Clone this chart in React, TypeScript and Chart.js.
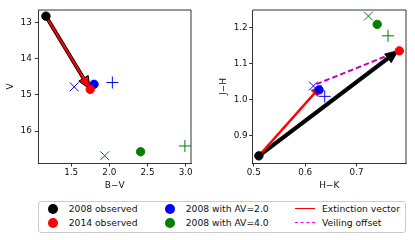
import React, { useEffect, useRef } from 'react';
import { Chart, registerables } from 'chart.js';

Chart.register(...registerables);

// ---------- Left panel: B−V vs V ----------
const bv2008 = [1.17];
const v2008 = [12.83];
const bv2014 = [1.75];
const v2014 = [14.85];
const bvAV2 = [1.8, 1.54, 2.04];
const vAV2 = [14.71, 14.78, 14.66];
const bvAV4 = [2.41, 1.94, 2.99];
const vAV4 = [16.57, 16.68, 16.41];
const leftXRange = [1.07, 3.07];
const leftYRange = [12.66, 16.88];
const leftXTicks = [1.5, 2.0, 2.5, 3.0];
const leftYTicks = [13, 14, 15, 16];
const leftArrowFrom = [1.17, 12.83];
const leftArrowTo = [1.75, 14.85];

// ---------- Right panel: H−K vs J−H ----------
const hk2008 = [0.51];
const jh2008 = [0.843];
const hk2014 = [0.783];
const jh2014 = [1.136];
const hkAV2 = [0.627, 0.616, 0.638];
const jhAV2 = [1.027, 1.038, 1.009];
const hkAV4 = [0.74, 0.723, 0.761];
const jhAV4 = [1.21, 1.233, 1.178];
const rightXRange = [0.498, 0.796];
const rightYRange = [0.823, 1.25];
const rightXTicks = [0.5, 0.6, 0.7];
const rightYTicks = [0.9, 1.0, 1.1, 1.2];
const extArrowFrom = [0.51, 0.843];
const extArrowTo = [0.632, 1.04];
const totArrowFrom = [0.51, 0.843];
const totArrowTo = [0.781, 1.137];
const veilFrom = [0.622, 1.043];
const veilTo = [0.783, 1.136];

const markerStyles = ['circle', 'crossRot', 'cross'];
const markerRadii = [4.2, 6.2, 6];

const FONT = 'DejaVu Sans';

function pts(xs: number[], ys: number[]) {
  return xs.map((x, i) => ({ x, y: ys[i] }));
}

function drawArrow(
  ctx: CanvasRenderingContext2D,
  x0: number, y0: number, x1: number, y1: number,
  o: { width: number; headWidth: number; headLength: number; fill: string; stroke: string; lineWidth: number }
) {
  const dx = x1 - x0, dy = y1 - y0;
  const L = Math.hypot(dx, dy);
  const ux = dx / L, uy = dy / L;
  const px = -uy, py = ux;
  const bx = x1 - ux * o.headLength, by = y1 - uy * o.headLength;
  const w = o.width / 2, hw = o.headWidth / 2;
  ctx.save();
  ctx.beginPath();
  ctx.moveTo(x0 + px * w, y0 + py * w);
  ctx.lineTo(bx + px * w, by + py * w);
  ctx.lineTo(bx + px * hw, by + py * hw);
  ctx.lineTo(x1, y1);
  ctx.lineTo(bx - px * hw, by - py * hw);
  ctx.lineTo(bx - px * w, by - py * w);
  ctx.lineTo(x0 - px * w, y0 - py * w);
  ctx.closePath();
  ctx.fillStyle = o.fill;
  ctx.fill();
  ctx.lineJoin = 'miter';
  ctx.strokeStyle = o.stroke;
  ctx.lineWidth = o.lineWidth;
  ctx.stroke();
  ctx.restore();
}

function makeDatasets(x08: number[], y08: number[], x14: number[], y14: number[], x2: number[], y2: number[], x4: number[], y4: number[]) {
  return [
    {
      label: '2008 observed', data: pts(x08, y08), pointStyle: 'circle', pointRadius: 4.2,
      backgroundColor: '#000000', borderColor: '#000000', borderWidth: 1,
    },
    {
      label: '2014 observed', data: pts(x14, y14), pointStyle: 'circle', pointRadius: 4.2,
      backgroundColor: '#ff0000', borderColor: '#ff0000', borderWidth: 1,
    },
    {
      label: '2008 with AV=2.0', data: pts(x2, y2), pointStyle: markerStyles, pointRadius: markerRadii,
      backgroundColor: '#0000ff', borderColor: '#0000ff', borderWidth: 1,
    },
    {
      label: '2008 with AV=4.0', data: pts(x4, y4), pointStyle: markerStyles, pointRadius: markerRadii,
      backgroundColor: '#008000', borderColor: '#008000', borderWidth: 1,
    },
  ];
}

function axisOptions(
  range: number[], ticks: number[], title: string, horizontal: boolean, fmt: (v: number) => string,
  fitSize: number, titlePad: any, tickPad: number, reverse = false
) {
  return {
    type: 'linear',
    position: horizontal ? 'bottom' : 'left',
    min: range[0],
    max: range[1],
    reverse,
    afterBuildTicks: (scale: any) => {
      scale.ticks = ticks.map((v) => ({ value: v }));
    },
    afterFit: (scale: any) => {
      if (horizontal) scale.height = fitSize;
      else scale.width = fitSize;
    },
    grid: { drawOnChartArea: false, drawTicks: true, tickLength: 3.5, color: '#000000', lineWidth: 0.8 },
    border: { display: true, color: '#000000', width: 0.8 },
    ticks: {
      color: '#111111',
      font: { family: FONT, size: 8.8 },
      padding: tickPad,
      maxRotation: 0,
      autoSkip: false,
      callback: (v: any) => fmt(Number(v)),
    },
    title: {
      display: true,
      text: title,
      color: '#111111',
      font: { family: FONT, size: 9 },
      padding: titlePad,
    },
  };
}

const framePlugin = {
  id: 'frame',
  afterDraw(chart: any) {
    const { ctx, chartArea: a } = chart;
    ctx.save();
    ctx.strokeStyle = '#000000';
    ctx.lineWidth = 0.8;
    ctx.beginPath();
    ctx.moveTo(a.left, a.top);
    ctx.lineTo(a.right, a.top);
    ctx.lineTo(a.right, a.bottom);
    ctx.stroke();
    ctx.restore();
  },
};

function LeftChart() {
  const ref = useRef<HTMLCanvasElement | null>(null);
  useEffect(() => {
    if (!ref.current) return;
    const arrowPlugin = {
      id: 'leftArrows',
      beforeDatasetsDraw(chart: any) {
        const { ctx, scales } = chart;
        const x = scales.x, y = scales.y;
        drawArrow(
          ctx,
          x.getPixelForValue(leftArrowFrom[0]), y.getPixelForValue(leftArrowFrom[1]),
          x.getPixelForValue(leftArrowTo[0]), y.getPixelForValue(leftArrowTo[1]),
          { width: 3, headWidth: 11, headLength: 13, fill: '#ff0000', stroke: '#000000', lineWidth: 1 }
        );
      },
    };
    const chart = new Chart(ref.current, {
      type: 'scatter',
      data: { datasets: makeDatasets(bv2008, v2008, bv2014, v2014, bvAV2, vAV2, bvAV4, vAV4) as any },
      options: {
        animation: false,
        responsive: false,
        maintainAspectRatio: false,
        layout: { padding: { left: 0, right: 14, top: 10, bottom: 0 } },
        plugins: { legend: { display: false }, tooltip: { enabled: false } },
        scales: {
          x: axisOptions(leftXRange, leftXTicks, 'B\u2212V', true, (v) => v.toFixed(1), 37, { top: 0, bottom: 8.6 }, 1) as any,
          y: axisOptions(leftYRange, leftYTicks, 'V', false, (v) => v.toFixed(0), 38.3, { top: 5.6, bottom: 0 }, 3, true) as any,
        },
      },
      plugins: [arrowPlugin, framePlugin],
    });
    return () => chart.destroy();
  }, []);
  return <canvas ref={ref} width={205} height={200} style={{ position: 'absolute', left: 0, top: 0, width: 205, height: 200 }} />;
}

function RightChart() {
  const ref = useRef<HTMLCanvasElement | null>(null);
  useEffect(() => {
    if (!ref.current) return;
    const arrowPlugin = {
      id: 'rightArrows',
      beforeDatasetsDraw(chart: any) {
        const { ctx, scales } = chart;
        const x = scales.x, y = scales.y;
        const px = (v: number) => x.getPixelForValue(v);
        const py = (v: number) => y.getPixelForValue(v);
        // veiling offset dashed line
        ctx.save();
        ctx.strokeStyle = '#bf00bf';
        ctx.lineWidth = 2;
        ctx.setLineDash([5.5, 3]);
        ctx.beginPath();
        ctx.moveTo(px(veilFrom[0]), py(veilFrom[1]));
        ctx.lineTo(px(veilTo[0]), py(veilTo[1]));
        ctx.stroke();
        ctx.restore();
        drawArrow(ctx, px(totArrowFrom[0]), py(totArrowFrom[1]), px(totArrowTo[0]), py(totArrowTo[1]),
          { width: 3.5, headWidth: 11, headLength: 13, fill: '#000000', stroke: '#000000', lineWidth: 0.8 });
        drawArrow(ctx, px(extArrowFrom[0]), py(extArrowFrom[1]), px(extArrowTo[0]), py(extArrowTo[1]),
          { width: 2, headWidth: 9, headLength: 11, fill: '#ff0000', stroke: '#ff0000', lineWidth: 0.6 });
      },
    };
    const chart = new Chart(ref.current, {
      type: 'scatter',
      data: { datasets: makeDatasets(hk2008, jh2008, hk2014, jh2014, hkAV2, jhAV2, hkAV4, jhAV4) as any },
      options: {
        animation: false,
        responsive: false,
        maintainAspectRatio: false,
        layout: { padding: { left: 0, right: 9, top: 10, bottom: 0 } },
        plugins: { legend: { display: false }, tooltip: { enabled: false } },
        scales: {
          x: axisOptions(rightXRange, rightXTicks, 'H\u2212K', true, (v) => v.toFixed(1), 37, { top: 0, bottom: 8.6 }, 1) as any,
          y: axisOptions(rightYRange, rightYTicks, 'J\u2212H', false, (v) => v.toFixed(1), 47.7, { top: 13.6, bottom: 0 }, 1.5) as any,
        },
      },
      plugins: [arrowPlugin, framePlugin],
    });
    return () => chart.destroy();
  }, []);
  return <canvas ref={ref} width={210} height={200} style={{ position: 'absolute', left: 205, top: 0, width: 210, height: 200 }} />;
}

const legendItems = [
  { label: '2008 observed', kind: 'dot', color: '#000000', x: 53, y: 209 },
  { label: '2014 observed', kind: 'dot', color: '#ff0000', x: 53, y: 223 },
  { label: '2008 with AV=2.0', kind: 'dot', color: '#0000ff', x: 170, y: 209 },
  { label: '2008 with AV=4.0', kind: 'dot', color: '#008000', x: 170, y: 223 },
  { label: 'Extinction vector', kind: 'line', color: '#ff0000', x: 295, y: 209 },
  { label: 'Veiling offset', kind: 'dash', color: '#ff00ff', x: 295, y: 223 },
];

function Legend() {
  return (
    <div>
      <div
        style={{
          position: 'absolute', left: 38, top: 201, width: 366, height: 30,
          border: '1px solid #cccccc', borderRadius: 3, boxSizing: 'content-box', background: '#fff',
        }}
      />
      {legendItems.map((it) => {
        const textLeft = it.kind === 'dot' ? it.x + 15.7 : it.x + 27;
        return (
          <React.Fragment key={it.label}>
            {it.kind === 'dot' ? (
              <div style={{
                position: 'absolute', left: it.x - 5, top: it.y - 5, width: 10, height: 10,
                borderRadius: '50%', background: it.color,
              }} />
            ) : (
              <div style={{
                position: 'absolute', left: it.x, top: it.y - 0.75, width: 20, height: 0,
                borderTop: `1.5px ${it.kind === 'dash' ? 'dashed' : 'solid'} ${it.color}`,
              }} />
            )}
            <div style={{
              position: 'absolute', left: textLeft, top: it.y - 7, height: 14, lineHeight: '14px',
              fontFamily: FONT, fontSize: 9.2, color: '#111', whiteSpace: 'nowrap',
            }}>{it.label}</div>
          </React.Fragment>
        );
      })}
    </div>
  );
}

export default function App() {
  return (
    <div style={{ position: 'fixed', left: 0, top: 0, width: 415, height: 240, background: '#ffffff', overflow: 'hidden' }}>
      <LeftChart />
      <RightChart />
      <Legend />
    </div>
  );
}
